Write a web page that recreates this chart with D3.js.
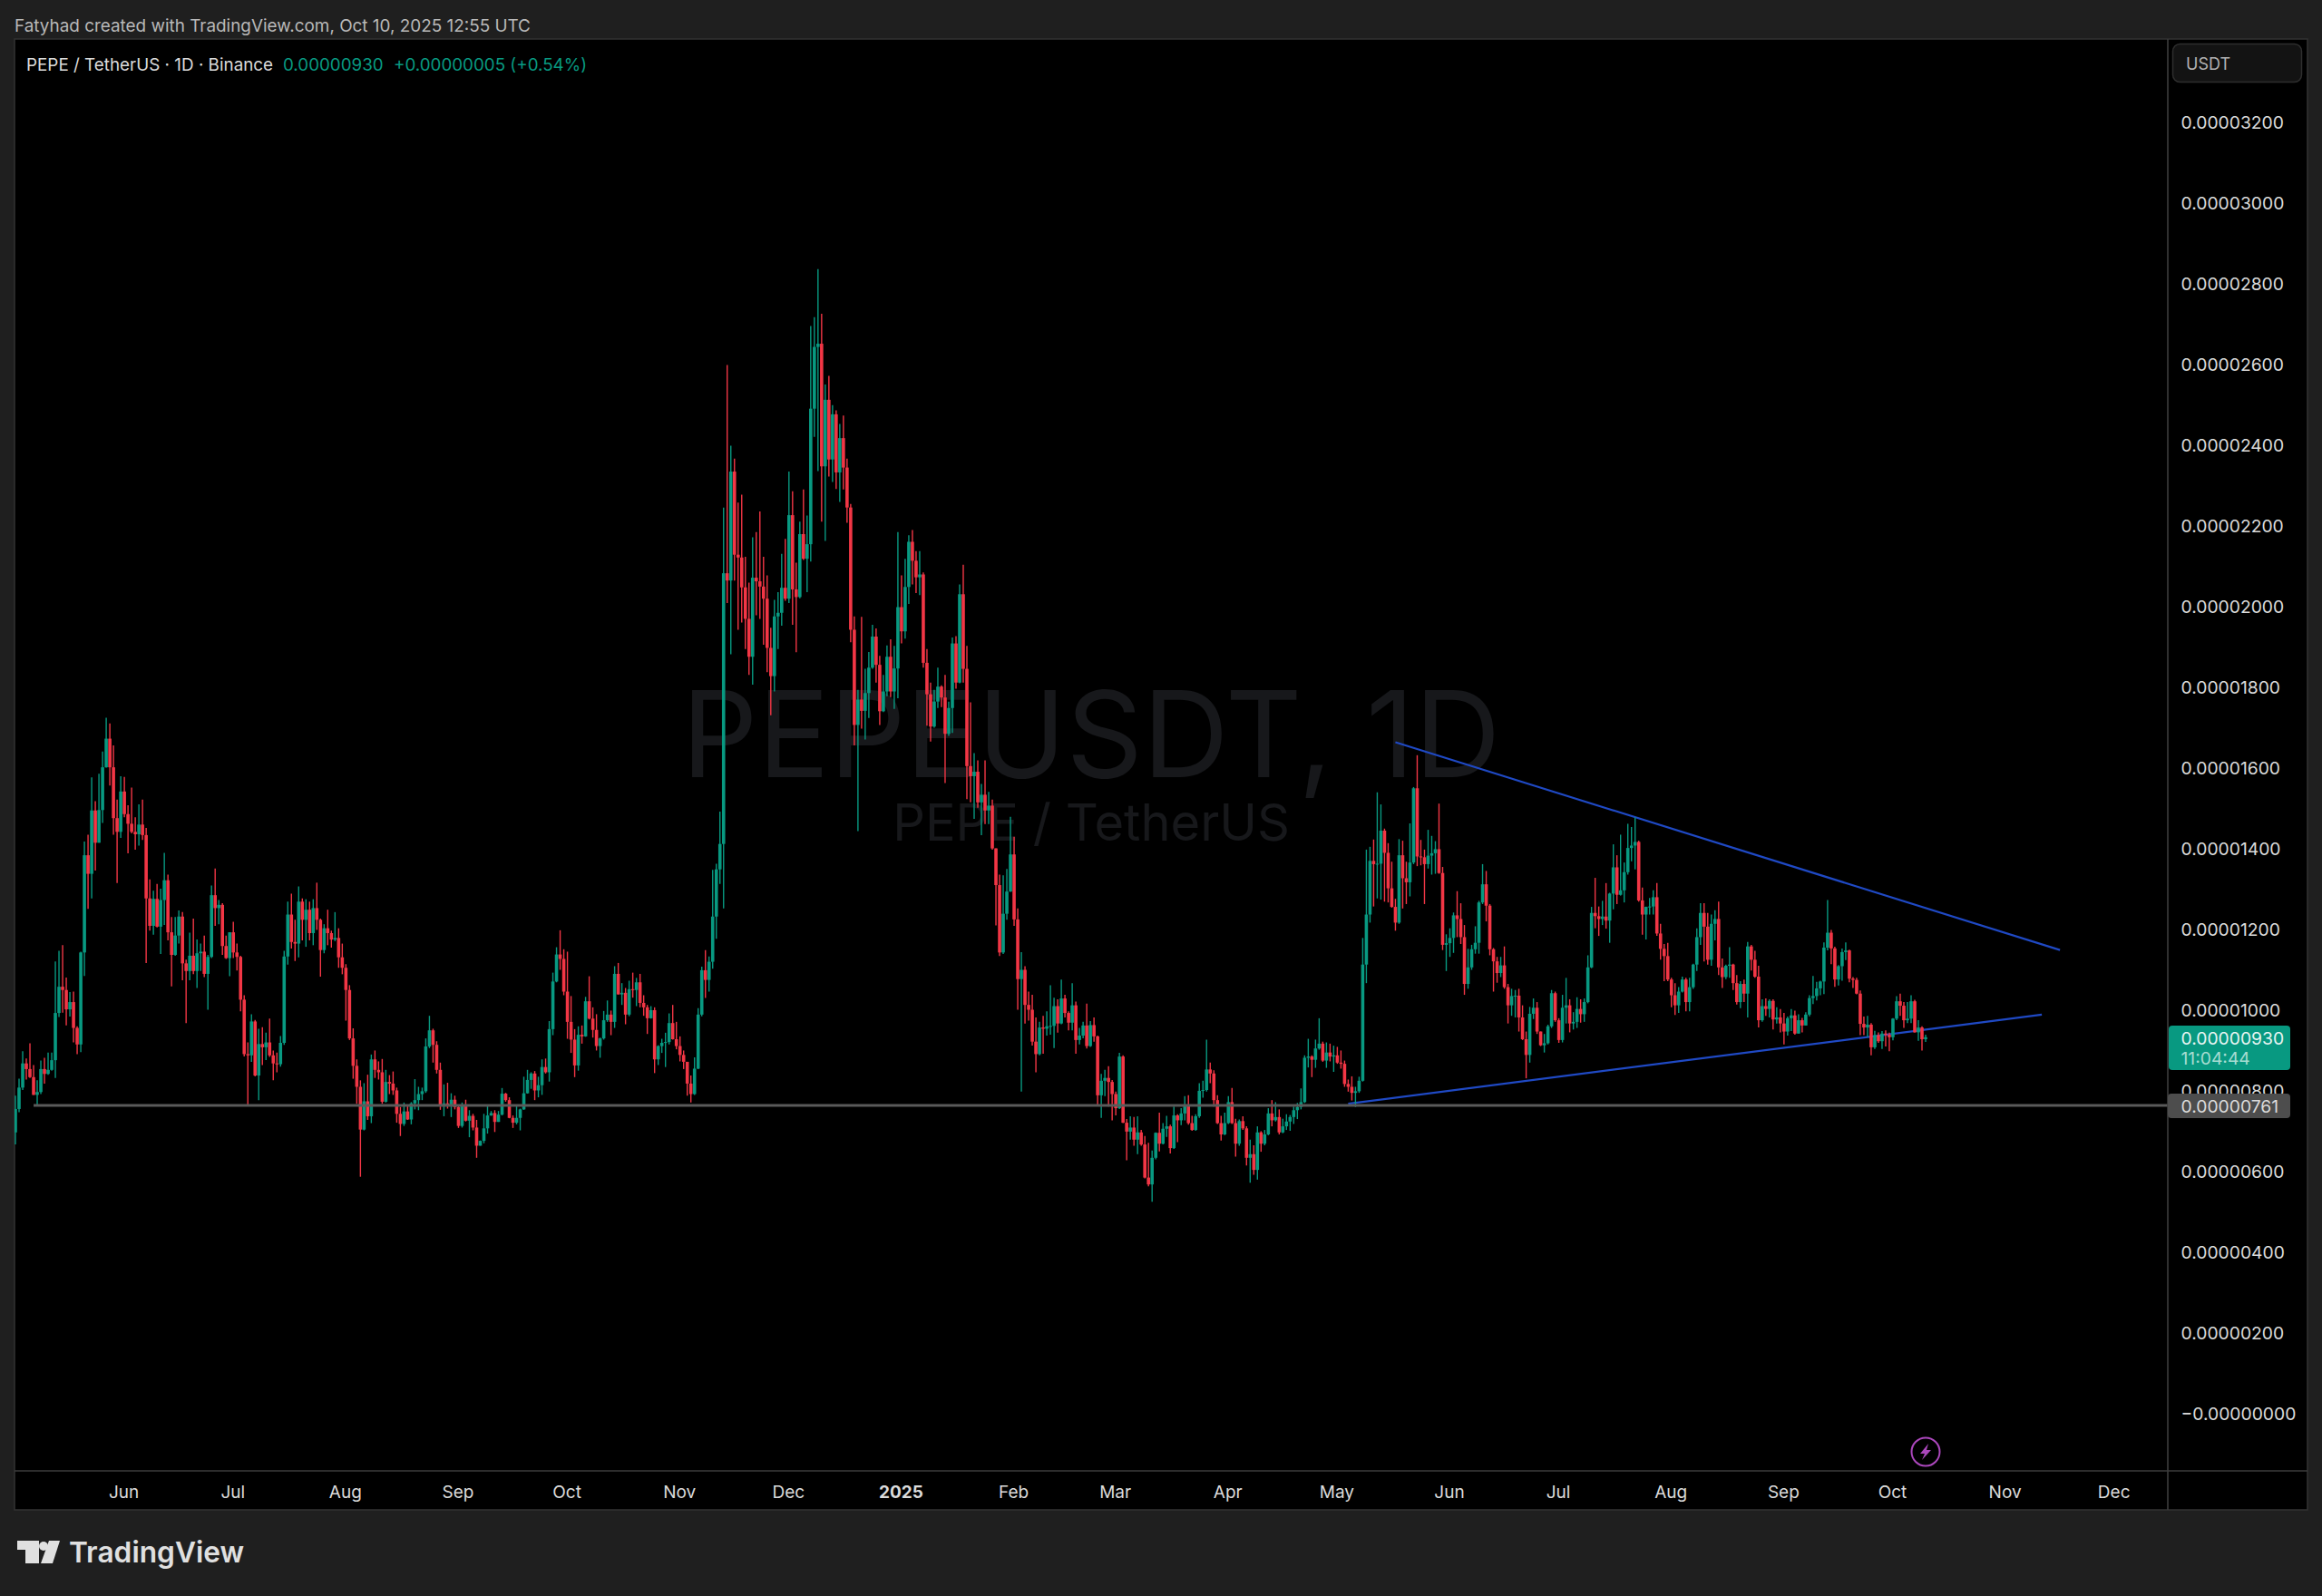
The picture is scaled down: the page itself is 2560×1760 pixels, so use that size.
<!DOCTYPE html>
<html>
<head>
<meta charset="utf-8">
<title>PEPEUSDT, 1D</title>
<script src="https://cdn.jsdelivr.net/npm/d3@7"></script>
<style>
    html, body { margin: 0; padding: 0; background: #1f1f1f; }
    svg { display: block; font-family: Inter, "Noto Sans", sans-serif; }
</style>
</head>
<body>
<svg id="chart" width="2560" height="1760"></svg>
<script>
/*------------------------
  ------- DATA -----------
  ------------------------*/

// daily candles from 2 May 2024, prices in units of 0.00000001 USDT
var first_day = new Date(Date.UTC(2024, 4, 2));
var last_day = new Date(Date.UTC(2025, 9, 10));
var first_open = 694;

var closes = [
    752,805,865,851,831,787,794,851,839,849,
    873,990,1055,1047,999,1017,953,912,1140,1381,
    1335,1492,1412,1493,1599,1670,1599,1473,1439,1539,
    1483,1459,1439,1433,1457,1431,1274,1206,1273,1204,
    1270,1319,1190,1134,1182,1229,1113,1094,1132,1094,
    1138,1142,1087,1129,1282,1250,1258,1156,1126,1190,
    1140,1129,1023,888,885,969,835,913,905,917,
    885,865,863,916,1130,1234,1166,1162,1266,1221,
    1246,1188,1250,1221,1146,1200,1188,1172,1176,1128,
    1102,1047,927,859,807,701,771,734,875,849,
    843,770,819,815,798,740,715,746,726,766,
    774,789,796,907,947,911,849,759,766,759,
    775,757,710,760,723,735,706,661,673,704,
    736,742,720,738,790,774,730,718,730,751,
    791,824,840,798,811,856,843,950,1068,1135,
    1124,1043,968,924,860,936,932,1019,976,948,
    908,927,972,986,968,1087,1036,1040,986,1049,
    1047,1066,1015,1004,977,997,875,908,916,918,
    965,925,908,886,869,815,789,852,986,1096,
    1072,1117,1229,1346,1409,2080,2062,2332,2126,2119,
    2045,1967,1873,2069,2060,2047,2017,1895,1825,1973,
    1982,2044,2017,2224,2040,2021,2177,2116,2152,2488,
    2641,2649,2345,2510,2362,2474,2330,2415,2342,2243,
    1940,1704,1767,1739,1783,1846,1923,1853,1738,1787,
    1873,1787,1844,1996,1936,2046,2158,2111,2070,2077,
    1858,1780,1700,1762,1799,1772,1682,1746,1906,1809,
    2028,1843,1602,1577,1588,1512,1531,1492,1504,1398,
    1307,1140,1236,1291,1383,1222,1074,1097,1010,998,
    919,888,954,951,957,958,1007,964,1026,990,
    966,1009,923,934,959,908,960,932,786,822,
    829,819,789,754,882,718,696,706,676,694,
    664,582,565,631,693,666,703,709,655,736,
    724,741,762,717,700,734,797,799,850,840,
    774,717,689,717,769,717,666,722,704,631,
    640,601,694,666,689,741,724,732,694,709,
    721,732,749,757,769,879,882,874,902,914,
    872,892,882,885,867,864,814,807,792,796,
    822,1110,1234,1367,1359,1360,1442,1387,1299,1253,
    1214,1381,1324,1314,1363,1547,1378,1376,1359,1380,
    1386,1396,1337,1159,1163,1176,1232,1223,1178,1062,
    1103,1148,1164,1264,1309,1256,1148,1118,1089,1108,
    1054,1009,1032,1033,979,925,886,988,1003,944,
    910,915,957,1039,972,923,1003,1009,964,968,
    1000,987,1017,1103,1238,1230,1223,1229,1219,1286,
    1351,1283,1294,1339,1399,1405,1414,1269,1234,1253,
    1254,1277,1187,1149,1131,1073,1034,1009,1043,1073,
    1017,1054,1110,1178,1238,1204,1122,1211,1223,1103,
    1079,1107,1110,1064,1017,1062,1038,1155,1122,1080,
    972,1007,1000,1020,974,979,964,944,977,984,
    939,972,959,986,1027,1032,1051,1068,1152,1189,
    1150,1073,1106,1141,1145,1075,1072,1038,963,954,
    961,905,935,920,939,936,930,976,1019,1008,
    972,976,1019,942,954,925,930
];

var highs = [
    785,827,895,877,915,861,823,872,879,892,
    892,1118,1144,1158,1078,1042,1043,957,1142,1415,
    1432,1574,1515,1583,1638,1722,1708,1653,1519,1577,
    1575,1505,1549,1475,1507,1519,1449,1321,1293,1310,
    1298,1387,1333,1228,1228,1244,1240,1122,1189,1224,
    1172,1162,1182,1134,1306,1348,1270,1262,1182,1190,
    1216,1162,1132,1034,917,987,973,951,955,941,
    976,897,892,933,1144,1266,1286,1221,1304,1274,
    1272,1266,1272,1313,1224,1210,1246,1194,1240,1200,
    1162,1111,1059,952,875,823,816,837,887,897,
    870,876,849,836,845,805,757,768,760,769,
    826,807,805,927,983,951,920,867,813,817,
    791,785,760,768,775,749,740,725,674,740,
    759,747,749,747,804,792,781,736,762,753,
    832,849,843,846,832,875,877,970,1090,1153,
    1195,1148,1142,1032,950,957,959,1030,1081,1004,
    987,929,995,1021,996,1106,1114,1064,1052,1070,
    1090,1077,1087,1034,1010,1007,1004,910,926,941,
    989,1010,968,932,897,869,835,880,1002,1105,
    1146,1130,1345,1360,1489,2243,2596,2396,2364,2255,
    2275,2121,2057,2169,2182,2233,2121,2075,1945,2014,
    2033,2128,2165,2332,2283,2106,2208,2288,2223,2693,
    2715,2834,2723,2548,2569,2497,2484,2450,2471,2364,
    2252,1973,1791,1972,1843,1885,1952,1943,1875,1828,
    1901,1916,1900,2182,2075,2116,2174,2187,2135,2135,
    2082,1892,1809,1791,1846,1802,1828,1762,1921,1924,
    2052,2101,1900,1760,1634,1616,1558,1616,1538,1519,
    1398,1333,1331,1347,1476,1427,1249,1141,1106,1043,
    1035,979,968,983,994,1059,1028,1024,1073,1035,
    994,1064,1018,953,968,1013,970,979,934,839,
    849,858,824,795,891,885,727,734,732,734,
    700,685,668,649,694,743,717,735,713,758,
    739,754,784,786,735,739,816,822,924,867,
    848,786,735,743,784,804,728,726,734,709,
    676,662,709,697,700,754,774,769,751,728,
    739,737,758,767,803,885,926,885,924,977,
    919,917,914,909,906,897,872,825,833,807,
    832,1176,1395,1402,1420,1537,1507,1447,1411,1365,
    1273,1421,1417,1365,1460,1550,1629,1419,1395,1444,
    1429,1416,1509,1352,1185,1200,1239,1292,1262,1208,
    1149,1159,1205,1268,1359,1342,1260,1151,1129,1129,
    1155,1062,1050,1047,1050,1009,944,1005,1026,1017,
    944,938,961,1047,1043,977,1035,1077,1024,992,
    1029,1024,1026,1133,1253,1325,1254,1268,1312,1288,
    1408,1381,1432,1363,1459,1451,1475,1417,1301,1254,
    1275,1294,1312,1211,1161,1164,1077,1064,1054,1080,
    1077,1077,1112,1200,1262,1262,1238,1234,1245,1266,
    1125,1110,1153,1112,1084,1069,1073,1166,1159,1144,
    1107,1024,1026,1024,1024,1004,1000,990,981,1000,
    996,987,978,992,1034,1082,1067,1070,1165,1270,
    1196,1154,1109,1150,1165,1147,1079,1077,1046,981,
    983,965,946,942,945,947,941,977,1032,1038,
    1017,1017,1034,1023,972,957,936
];

var lows = [
    664,744,799,825,829,787,761,789,815,837,
    847,829,980,991,959,981,917,888,893,1082,
    1248,1274,1343,1412,1461,1598,1554,1432,1312,1424,
    1475,1386,1435,1395,1405,1419,1114,1194,1184,1202,
    1136,1208,1170,1056,1132,1162,1071,965,1071,1086,
    1052,1094,1079,998,1126,1206,1210,1134,1124,1081,
    1126,1095,994,882,761,869,833,774,861,873,
    881,823,843,857,911,1110,1150,1119,1128,1170,
    1154,1170,1158,1196,1080,1138,1158,1152,1168,1102,
    1086,971,923,827,765,584,699,725,717,829,
    825,765,768,789,787,718,685,710,725,714,
    751,749,774,792,903,867,840,750,734,753,
    732,751,705,706,721,682,699,631,661,667,
    691,735,695,720,736,770,729,705,714,699,
    750,790,802,774,781,787,840,820,935,1066,
    1097,1034,926,891,831,847,914,931,974,929,
    897,879,924,968,935,953,1036,1010,962,982,
    1028,1007,1004,983,938,976,841,861,891,856,
    912,924,900,870,851,785,768,787,851,982,
    1027,1043,1100,1174,1310,1249,2006,1879,2062,1940,
    1958,1892,1828,1804,1976,1967,1903,1835,1728,1787,
    1892,1950,2012,2006,1952,1884,2018,2113,2033,2109,
    2418,2333,2208,2160,2320,2306,2289,2257,2288,2205,
    1909,1653,1441,1695,1668,1721,1843,1809,1704,1736,
    1775,1773,1744,1770,1906,1918,2004,2052,2031,2026,
    1846,1702,1663,1697,1746,1748,1560,1677,1684,1794,
    1807,1809,1520,1512,1471,1499,1431,1458,1458,1395,
    1207,1131,1136,1221,1290,1206,998,795,964,971,
    909,843,885,889,934,936,903,941,962,979,
    947,947,889,912,927,902,906,919,760,730,
    784,758,724,736,752,717,625,676,661,640,
    661,580,560,522,627,647,664,683,642,653,
    670,712,724,713,698,698,730,780,795,816,
    758,715,674,687,715,715,634,661,700,612,
    569,589,577,646,662,687,709,721,689,692,
    700,698,715,727,751,767,855,831,854,899,
    869,854,870,844,864,852,807,795,773,757,
    792,820,1064,1214,1254,1274,1271,1266,1264,1251,
    1194,1211,1249,1260,1279,1359,1354,1356,1260,1348,
    1333,1335,1335,1146,1094,1129,1139,1178,1161,1035,
    1050,1097,1137,1137,1260,1217,1133,1043,1065,1079,
    1050,964,983,979,944,923,828,867,975,938,
    908,892,912,953,968,916,917,964,942,949,
    953,966,968,1014,1101,1200,1181,1208,1199,1164,
    1247,1260,1281,1264,1333,1366,1346,1266,1184,1172,
    1234,1234,1181,1122,1069,1069,1004,985,990,1041,
    994,994,1050,1094,1159,1118,1110,1107,1170,1084,
    1052,1074,1077,1047,1011,1002,1017,979,1095,1077,
    954,968,983,979,949,964,942,912,934,945,
    936,939,942,959,982,1012,1021,1034,1037,1145,
    1111,1055,1058,1070,1121,1066,1052,1036,935,935,
    930,885,901,916,901,907,895,922,972,983,
    953,965,965,941,921,897,918
];

// axis labels
var price_ticks = [0,200,400,600,800,1000,1200,1400,1600,1800,2000,2200,2400,2600,2800,3000,3200];
var month_names = ["Jun","Jul","Aug","Sep","Oct","Nov","Dec","2025","Feb","Mar","Apr","May","Jun","Jul","Aug","Sep","Oct","Nov","Dec"];
var month_dates = [[2024,5],[2024,6],[2024,7],[2024,8],[2024,9],[2024,10],[2024,11],[2025,0],[2025,1],[2025,2],[2025,3],[2025,4],
                   [2025,5],[2025,6],[2025,7],[2025,8],[2025,9],[2025,10],[2025,11]];

// drawn lines
var support_price = 761;
var support_from = new Date(Date.UTC(2024, 4, 7));
var upper_line = [[new Date(Date.UTC(2025, 4, 17)), 1661], [new Date(Date.UTC(2025, 10, 16)), 1146]];
var lower_line = [[new Date(Date.UTC(2025, 4, 4)), 765], [new Date(Date.UTC(2025, 10, 11)), 986]];

// last price
var last_price = 930;
var countdown = "11:04:44";

// text
var created_text = "Fatyhad created with TradingView.com, Oct 10, 2025 12:55 UTC";
var symbol_text = "PEPE / TetherUS · 1D · Binance";
var last_text = "0.00000930";
var change_text = "+0.00000005 (+0.54%)";

/*------------------------
  ------ SETTINGS --------
  ------------------------*/

var pane = {left: 16, top: 43, right: 2390, bottom: 1622, outer: 2544, foot: 1665};
var up_color = "#089981";
var down_color = "#f23645";
var text_color = "#dbdbdb";
var line_color = "#3d3d3d";
var trend_color = "#1f49c4";
var label_size = 19.3;

var svg = d3.select("#chart");

var x = d3.scaleUtc().domain([first_day, last_day]).range([17, 2123]);
var y = d3.scaleLinear().domain([0, 3200]).range([1557.5, 133.9]);

function price_label(v) {
    return v == 0 ? "\u22120.00000000" : (v / 1e8).toFixed(8);
}

var candles = closes.map(function(c, i) {
    return {
        day: d3.utcDay.offset(first_day, i),
        open: i == 0 ? first_open : closes[i - 1],
        close: c,
        high: highs[i],
        low: lows[i]
    };
});

function candle_color(d) {
    return d.close >= d.open ? up_color : down_color;
}

/*------------------------
  ------- PANELS ---------
  ------------------------*/

svg.append("rect").attr("width", 2560).attr("height", 1760).attr("fill", "#1f1f1f");
svg.append("rect")
    .attr("x", pane.left).attr("y", pane.top)
    .attr("width", pane.outer - pane.left).attr("height", pane.foot - pane.top)
    .attr("fill", "#000").attr("stroke", "#333").attr("stroke-width", 1.5);

svg.append("defs").append("clipPath").attr("id", "pane-clip")
    .append("rect")
    .attr("x", pane.left).attr("y", pane.top)
    .attr("width", pane.right - pane.left).attr("height", pane.bottom - pane.top);

// watermark
svg.append("text").text("PEPEUSDT, 1D")
    .attr("x", 1203).attr("y", 857)
    .attr("text-anchor", "middle").attr("font-size", 131.5)
    .attr("fill", "#17181b");
svg.append("text").text("PEPE / TetherUS")
    .attr("x", 1203).attr("y", 927)
    .attr("text-anchor", "middle").attr("font-size", 56)
    .attr("fill", "#17181b");

/*------------------------
  ------- CANDLES --------
  ------------------------*/

var plot = svg.append("g").attr("clip-path", "url(#pane-clip)");

// trend lines sit behind the candles
var trend = d3.line()
    .x(function(d) { return x(d[0]); })
    .y(function(d) { return y(d[1]); });

plot.selectAll(".trend")
    .data([upper_line, lower_line]).enter().append("path")
    .attr("class", "trend")
    .attr("d", trend)
    .attr("fill", "none")
    .attr("stroke", trend_color)
    .attr("stroke-width", 2.2);

plot.append("g").selectAll("line")
    .data(candles).enter().append("line")
    .attr("x1", function(d) { return x(d.day); })
    .attr("x2", function(d) { return x(d.day); })
    .attr("y1", function(d) { return y(d.high); })
    .attr("y2", function(d) { return y(d.low); })
    .attr("stroke", candle_color)
    .attr("stroke-width", 1.4);

plot.append("g").selectAll("rect")
    .data(candles).enter().append("rect")
    .attr("x", function(d) { return x(d.day) - 1.8; })
    .attr("y", function(d) { return y(Math.max(d.open, d.close)); })
    .attr("width", 3.6)
    .attr("height", function(d) { return Math.max(1, Math.abs(y(d.open) - y(d.close))); })
    .attr("fill", candle_color);

plot.append("line")
    .attr("x1", x(support_from)).attr("x2", pane.right)
    .attr("y1", y(support_price)).attr("y2", y(support_price))
    .attr("stroke", "#5a5a5a").attr("stroke-width", 3);

/*------------------------
  -------- AXES ----------
  ------------------------*/

svg.append("line")
    .attr("x1", pane.left).attr("x2", pane.outer)
    .attr("y1", pane.bottom).attr("y2", pane.bottom)
    .attr("stroke", line_color).attr("stroke-width", 1.6);
svg.append("line")
    .attr("x1", pane.right).attr("x2", pane.right)
    .attr("y1", pane.top).attr("y2", pane.foot)
    .attr("stroke", line_color).attr("stroke-width", 1.6);

var y_axis = d3.axisRight(y)
    .tickValues(price_ticks)
    .tickFormat(price_label)
    .tickSize(0)
    .tickPadding(0);

var y_group = svg.append("g")
    .attr("transform", "translate(2404.5,1.5)")
    .call(y_axis);
y_group.select(".domain").remove();
y_group.selectAll("text")
    .attr("font-family", "Inter")
    .attr("font-size", label_size)
    .attr("fill", text_color);

var x_axis = d3.axisBottom(x)
    .tickValues(month_dates.map(function(d) { return new Date(Date.UTC(d[0], d[1], 1)); }))
    .tickFormat(function(d, i) { return month_names[i]; })
    .tickSize(0)
    .tickPadding(0);

var x_group = svg.append("g")
    .attr("transform", "translate(-1,1638)")
    .call(x_axis);
x_group.select(".domain").remove();
x_group.selectAll("text")
    .attr("font-family", "Inter")
    .attr("font-size", 19)
    .attr("font-weight", function(d, i) { return month_names[i] == "2025" ? 700 : 400; })
    .attr("fill", text_color);

/*------------------------
  ---- PRICE LABELS ------
  ------------------------*/

svg.append("rect")
    .attr("x", pane.right + 1).attr("y", 1131)
    .attr("width", 134).attr("height", 49).attr("rx", 4)
    .attr("fill", up_color);
svg.append("text").text(price_label(last_price))
    .attr("x", 2404.5).attr("y", 1152)
    .attr("font-size", label_size).attr("fill", "#e6f4f1");
svg.append("text").text(countdown)
    .attr("x", 2404.5).attr("y", 1174)
    .attr("font-size", label_size).attr("fill", "#a6dcd1");

svg.append("rect")
    .attr("x", pane.right).attr("y", 1206)
    .attr("width", 135).attr("height", 27).attr("rx", 4)
    .attr("fill", "#4d4d4d");
svg.append("text").text(price_label(support_price))
    .attr("x", 2404.5).attr("y", 1226.5)
    .attr("font-size", label_size).attr("fill", text_color);

svg.append("rect")
    .attr("x", 2395.5).attr("y", 48.5).attr("width", 142).attr("height", 42).attr("rx", 8)
    .attr("fill", "#131313").attr("stroke", "#2e2e2e").attr("stroke-width", 1.5);
svg.append("text").text("USDT")
    .attr("x", 2410).attr("y", 76.5)
    .attr("font-size", 18).attr("fill", "#b2b2b2");

/*------------------------
  ------- HEADERS --------
  ------------------------*/

svg.append("text").text(created_text)
    .attr("x", 16).attr("y", 34.5)
    .attr("font-size", 18.9).attr("fill", "#b8b8b8");

svg.append("text").text(symbol_text)
    .attr("x", 29).attr("y", 77.5)
    .attr("font-size", 18.85).attr("fill", "#dbdbdb");
svg.append("text").text(last_text)
    .attr("x", 312).attr("y", 77.5)
    .attr("font-size", 18.8).attr("fill", up_color);
svg.append("text").text(change_text)
    .attr("x", 434).attr("y", 77.5)
    .attr("font-size", 18.8).attr("fill", up_color);

// lightning mark on the last bar
var bolt = svg.append("g").attr("transform", "translate(" + x(last_day) + ",1601)");
bolt.append("circle").attr("r", 15.5)
    .attr("fill", "#000").attr("stroke", "#ab47bc").attr("stroke-width", 2);
bolt.append("path")
    .attr("d", "M3,-9 L-6,2 L-1,2 L-4,9 L6,-2 L1,-2 Z")
    .attr("fill", "#ab47bc");

// logo
var logo = svg.append("g").attr("fill", "#e0e0e0");
logo.append("path").attr("d", "M19,1699 H43 V1724 H28 V1709 H19 Z");
logo.append("circle").attr("cx", 48).attr("cy", 1705).attr("r", 5);
logo.append("path").attr("d", "M54,1699 H66 L58,1724 H45 Z");
logo.append("text").text("TradingView")
    .attr("x", 76).attr("y", 1723)
    .attr("font-size", 31.7).attr("font-weight", 600);

</script>
</body>
</html>
